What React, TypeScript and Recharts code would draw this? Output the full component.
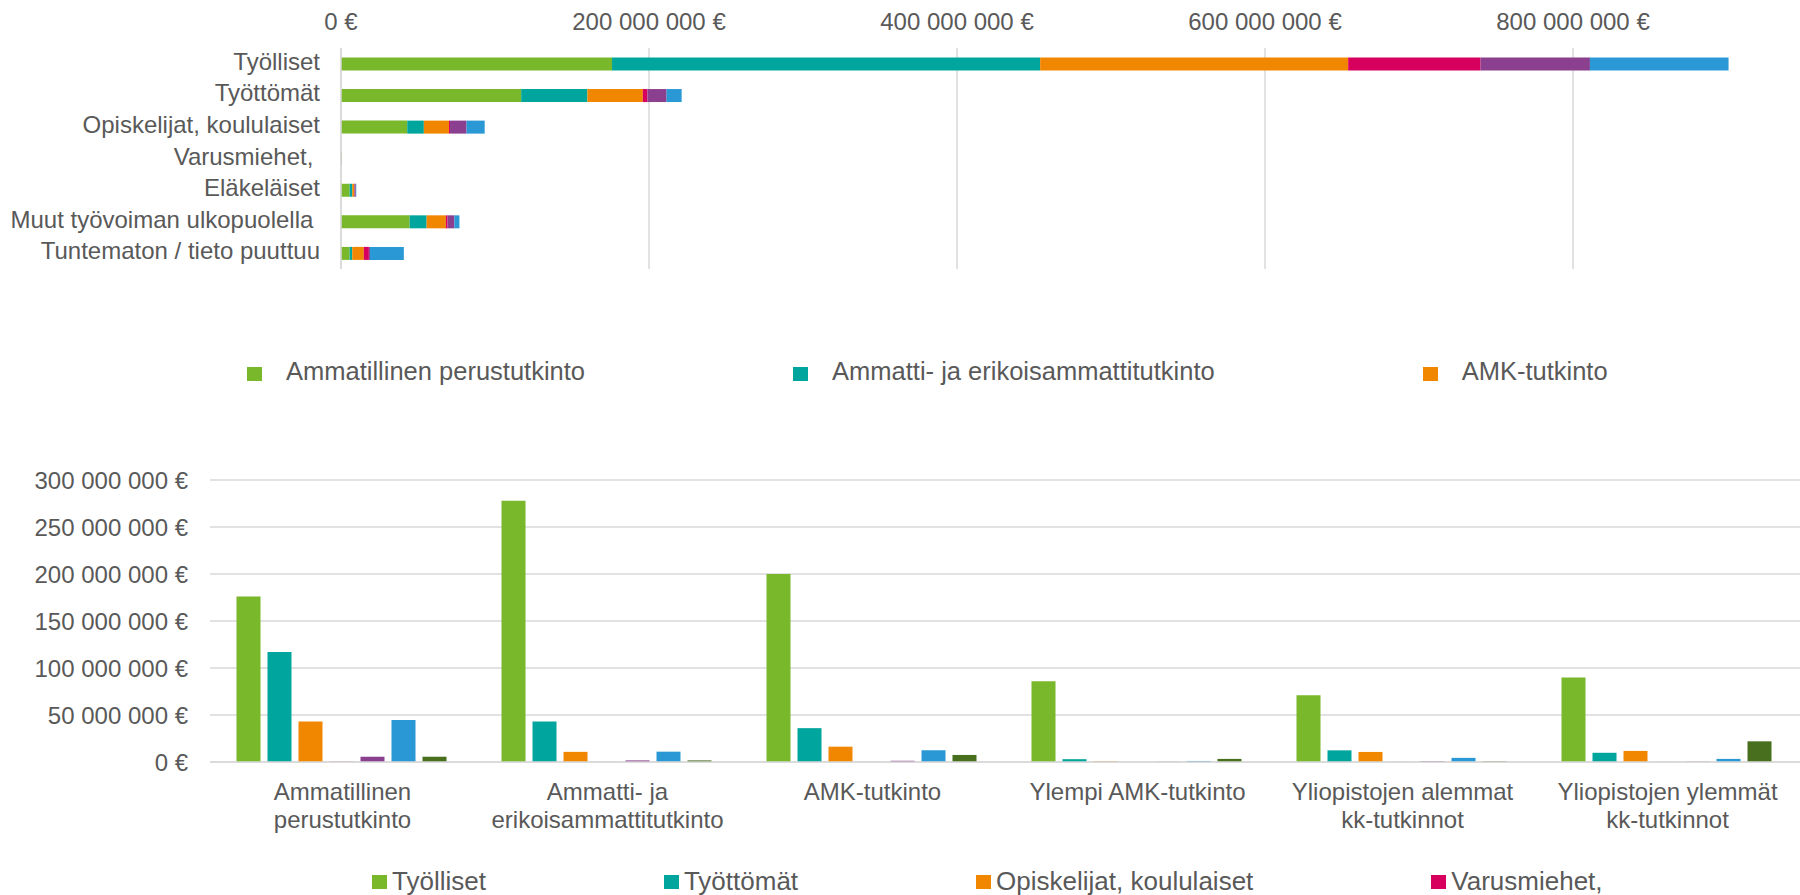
import { BarChart, Bar, XAxis, YAxis, CartesianGrid } from 'recharts';

// työmarkkina-asema (rows) x tutkinto (columns), values in million €
const statuses = [
  'Työlliset',
  'Työttömät',
  'Opiskelijat, koululaiset',
  'Varusmiehet, ',
  'Eläkeläiset',
  'Muut työvoiman ulkopuolella ',
  'Tuntematon / tieto puuttuu',
];
const degrees = [
  'Ammatillinen perustutkinto',
  'Ammatti- ja erikoisammattitutkinto',
  'AMK-tutkinto',
  'Ylempi AMK-tutkinto',
  'Yliopistojen alemmat kk-tutkinnot',
  'Yliopistojen ylemmät kk-tutkinnot',
];

const tyolliset = [176, 278, 200, 86, 71, 90];
const tyottomat = [117, 43, 36, 3, 12.4, 9.8];
const opiskelijat = [43, 10.8, 16.3, 0.7, 10.7, 11.8];
const varusmiehet = [0.3, 0.1, 0.1, 0, 0.05, 0.05];
const elakelaiset = [5.6, 1.7, 1.3, 0.2, 0.8, 0.3];
const muut = [44.6, 11, 12.5, 1.1, 4.4, 3.3];
const tuntematon = [5.6, 1.7, 7.5, 3.3, 0.7, 22];

const statusValues = [tyolliset, tyottomat, opiskelijat, varusmiehet, elakelaiset, muut, tuntematon];

const topTicks = [0, 200000000, 400000000, 600000000, 800000000];
const bottomTicks = [0, 50000000, 100000000, 150000000, 200000000, 250000000, 300000000];

const colors = ['#78b82a', '#00a59d', '#f18700', '#d8005f', '#8a3f8f', '#2998d5', '#476f1d'];

const TEXT = '#595959';
const GRID = '#d9d9d9';
const FONT = '"Liberation Sans", Arial, sans-serif';

const byStatus = statuses.map((name, i) => {
  const row: Record<string, string | number> = { name };
  degrees.forEach((_, j) => {
    row[`d${j}`] = statusValues[i][j] * 1e6;
  });
  return row;
});

const byDegree = degrees.map((name, j) => {
  const row: Record<string, string | number> = { name };
  statuses.forEach((_, i) => {
    row[`s${i}`] = statusValues[i][j] * 1e6;
  });
  return row;
});

const euro = (v: number) => `${String(Math.round(v)).replace(/\B(?=(\d{3})+(?!\d))/g, ' ')} €`;

const wrap = (label: string, max = 20) => {
  const lines: string[] = [];
  let cur = '';
  label.split(' ').forEach((w) => {
    const next = cur ? `${cur} ${w}` : w;
    if (next.length > max && cur) {
      lines.push(cur);
      cur = w;
    } else cur = next;
  });
  if (cur) lines.push(cur);
  return lines;
};

const TopTick = ({ x, y, payload }: any) => (
  <text x={x} y={y} dy={-18.5} textAnchor="middle" fill={TEXT} fontSize={24} fontFamily={FONT}>
    {euro(payload.value)}
  </text>
);

const StatusTick = ({ x, y, payload }: any) => (
  <text x={x} y={y} dy={6} textAnchor="end" fill={TEXT} fontSize={24} fontFamily={FONT} style={{ whiteSpace: 'pre' }}>
    {payload.value}
  </text>
);

const DegreeTick = ({ x, y, payload }: any) => (
  <text x={x} y={y} textAnchor="middle" fill={TEXT} fontSize={24} fontFamily={FONT}>
    {wrap(payload.value).map((line, i) => (
      <tspan key={i} x={x} dy={i === 0 ? 38 : 28}>
        {line}
      </tspan>
    ))}
  </text>
);

interface LegendProps {
  items: { name: string; color: string }[];
  top: number;
  left: number;
  gap: number;
  swatchGap: number;
  swatchTop: number;
  fontSize: number;
}

const SwatchLegend = ({ items, top, left, gap, swatchGap, swatchTop, fontSize }: LegendProps) => (
  <div
    style={{
      position: 'absolute',
      top,
      left,
      display: 'flex',
      gap,
      whiteSpace: 'nowrap',
      fontSize,
      lineHeight: `${fontSize}px`,
    }}
  >
    {items.map((it) => (
      <div key={it.name} style={{ display: 'flex', alignItems: 'flex-start' }}>
        <span
          style={{ width: 15, height: 14, marginTop: swatchTop, marginRight: swatchGap, background: it.color, flex: 'none' }}
        />
        <span>{it.name.trim()}</span>
      </div>
    ))}
  </div>
);

const App = () => (
  <div
    style={{
      position: 'absolute',
      left: 0,
      top: 0,
      width: 1800,
      height: 895,
      overflow: 'hidden',
      background: '#fff',
      fontFamily: FONT,
      color: TEXT,
    }}
  >
    <div style={{ position: 'absolute', left: 0, top: 0 }}>
      <BarChart
        width={1881}
        height={290}
        data={byStatus}
        layout="vertical"
        barCategoryGap="30%"
        margin={{ top: 0, right: 0, bottom: 21, left: 0 }}
      >
        <CartesianGrid horizontal={false} stroke={GRID} strokeWidth={1.5} />
        <XAxis
          type="number"
          orientation="top"
          domain={[0, 1000000000]}
          ticks={topTicks}
          height={48}
          axisLine={false}
          tickLine={false}
          tickSize={0}
          tickMargin={0}
          tick={<TopTick />}
        />
        <YAxis
          type="category"
          dataKey="name"
          width={341}
          axisLine={{ stroke: GRID, strokeWidth: 1.5 }}
          tickLine={false}
          tickSize={0}
          tickMargin={21}
          tick={<StatusTick />}
        />
        {degrees.map((d, j) => (
          <Bar key={d} name={d} dataKey={`d${j}`} stackId="a" fill={colors[j]} isAnimationActive={false} />
        ))}
      </BarChart>
    </div>

    <SwatchLegend
      items={degrees.slice(0, 3).map((name, j) => ({ name, color: colors[j] }))}
      top={359}
      left={247}
      gap={208}
      swatchGap={24}
      swatchTop={8}
      fontSize={25.5}
    />

    <div style={{ position: 'absolute', left: 0, top: 430 }}>
      <BarChart
        width={1800}
        height={465}
        data={byDegree}
        barCategoryGap="10%"
        barGap={7}
        margin={{ top: 50, right: 0, bottom: 0, left: 0 }}
      >
        <CartesianGrid vertical={false} stroke={GRID} strokeWidth={1.5} />
        <XAxis
          dataKey="name"
          height={133}
          axisLine={{ stroke: GRID, strokeWidth: 1.5 }}
          tickLine={false}
          tickSize={0}
          tickMargin={0}
          interval={0}
          tick={<DegreeTick />}
        />
        <YAxis
          domain={[0, 300000000]}
          ticks={bottomTicks}
          width={210}
          axisLine={false}
          tickLine={false}
          tickSize={0}
          tickMargin={22}
          tickFormatter={euro}
          tick={{ fill: TEXT, fontSize: 24, fontFamily: FONT }}
        />
        {statuses.map((s, i) => (
          <Bar key={s} name={s} dataKey={`s${i}`} fill={colors[i]} isAnimationActive={false} />
        ))}
      </BarChart>
    </div>

    <SwatchLegend
      items={statuses.slice(0, 4).map((name, i) => ({ name, color: colors[i] }))}
      top={867.5}
      left={372}
      gap={178}
      swatchGap={5}
      swatchTop={7.5}
      fontSize={26}
    />
  </div>
);

export default App;
